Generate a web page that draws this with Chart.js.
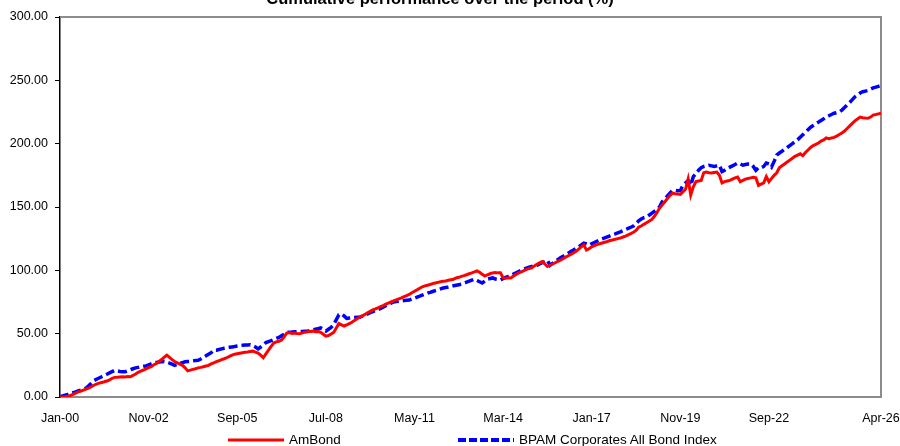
<!DOCTYPE html>
<html>
<head>
<meta charset="utf-8">
<script src="https://cdn.jsdelivr.net/npm/chart.js@4/dist/chart.umd.min.js"></script>
<style>
    html, body { margin: 0; padding: 0; background: #fff; overflow: hidden; }
    #wrap { position: relative; width: 900px; height: 446px; font-family: "Liberation Sans", Arial, sans-serif; }
    #chart { position: absolute; left: 0; top: 0; }
    #title { position: absolute; left: 0; width: 880px; top: -10.5px; text-align: center; font-weight: bold; font-size: 16.5px; line-height: 16.5px; white-space: nowrap; }
    .leg { position: absolute; top: 431px; font-size: 13.5px; line-height: 16px; white-space: nowrap; }
    .leg svg { position: absolute; top: 0; }
</style>
</head>
<body>
<div id="wrap">
    <canvas id="chart" width="900" height="446"></canvas>
    <div id="title">Cumulative performance over the period (%)</div>
    <div class="leg" style="left:228px;">
        <svg width="58" height="16"><line x1="0" y1="9" x2="56" y2="9" stroke="#ff0000" stroke-width="3"/></svg>
        <span style="position:absolute; left:61px; top:1px;">AmBond</span>
    </div>
    <div class="leg" style="left:458px;">
        <svg width="58" height="16"><line x1="0" y1="9" x2="56" y2="9" stroke="#0000ff" stroke-width="4" stroke-dasharray="8 3"/></svg>
        <span style="position:absolute; left:61px; top:1px;">BPAM Corporates All Bond Index</span>
    </div>
</div>
<script>
// --- Data (monthly, Jan-00 .. Apr-26) ---
const monthNames = ['Jan', 'Feb', 'Mar', 'Apr', 'May', 'Jun', 'Jul', 'Aug', 'Sep', 'Oct', 'Nov', 'Dec'];
const tickLabels = ['Jan-00', 'Nov-02', 'Sep-05', 'Jul-08', 'May-11', 'Mar-14', 'Jan-17', 'Nov-19', 'Sep-22', 'Apr-26'];
const yTicks = [0, 50, 100, 150, 200, 250, 300];

const amBond = [
    0, 0.1, 0.3, 0.5, 1.2, 2.0, 3.1, 4.0, 4.6, 5.5, 6.3, 7.0,
    8.1, 9.3, 10.2, 11.0, 11.5, 12.0, 12.6, 13.5, 14.8, 15.5, 15.6, 15.8,
    15.9, 15.8, 16.2, 16.0, 17.0, 18.2, 19.5, 20.5, 21.3, 22.2, 23.1, 24.0,
    25.5, 26.4, 28.0, 29.6, 31.5, 33.0, 31.2, 29.5, 28.0, 27.0, 26.0, 25.0,
    23.0, 20.6, 21.2, 21.8, 22.3, 23.0, 23.4, 23.9, 24.5, 25.0, 26.1, 27.0,
    28.0, 28.6, 29.5, 30.2, 31.0, 32.0, 33.0, 33.8, 34.2, 34.6, 35.0, 35.3,
    35.6, 36.0, 36.2, 35.5, 34.6, 33.0, 31.0, 34.0, 37.0, 40.0, 42.6, 43.5,
    44.0, 45.0, 47.5, 50.5, 50.8, 50.2, 50.5, 50.1, 50.0, 50.6, 51.2, 51.5,
    51.8, 52.0, 51.6, 51.8, 51.0, 49.5, 48.0, 48.5, 49.8, 51.0, 54.5, 58.0,
    57.0, 56.0, 57.0, 58.0, 59.0, 60.5, 61.8, 63.0, 64.0, 65.2, 66.5, 67.6,
    68.7, 69.5, 70.4, 71.3, 72.2, 73.3, 74.2, 75.0, 75.8, 76.7, 77.5, 78.3,
    79.2, 80.0, 81.0, 82.3, 83.5, 84.6, 85.8, 87.0, 87.7, 88.2, 88.8, 89.5,
    90.0, 90.5, 91.0, 91.3, 91.6, 92.2, 92.6, 93.0, 94.0, 94.5, 95.2, 95.8,
    96.5, 97.3, 98.0, 98.8, 99.5, 98.5, 96.8, 95.5, 96.5, 97.3, 98.0, 98.3,
    98.0, 98.0, 94.0, 93.8, 94.2, 94.0, 95.5, 96.8, 98.0, 98.8, 99.8, 100.8,
    101.5, 102.0, 103.5, 104.8, 106.0, 107.0, 105.0, 103.0, 104.0, 105.0, 106.0, 107.0,
    108.0, 109.2, 110.4, 111.5, 112.6, 113.7, 115.0, 116.8, 118.5, 120.0, 116.0, 117.0,
    118.5, 119.5, 120.3, 121.0, 121.6, 122.2, 122.8, 123.5, 124.0, 124.5, 125.0, 125.5,
    126.3, 127.0, 128.0, 129.0, 130.0, 131.5, 134.0, 135.0, 136.3, 137.5, 138.8, 140.0,
    142.5, 145.5, 149.0, 151.5, 154.0, 156.5, 159.0, 161.0, 160.5, 160.2, 160.0, 162.0,
    164.0, 172.0, 159.5, 166.0, 170.0, 170.5, 171.0, 177.0, 177.5, 177.0, 176.8, 177.3,
    177.6, 175.0, 169.0, 170.0, 170.5, 171.0, 172.0, 173.0, 173.7, 170.0, 171.0, 172.0,
    172.5, 173.0, 173.5, 173.0, 167.0, 168.0, 169.0, 174.0, 170.0, 172.5, 175.0, 177.0,
    181.0, 182.5, 184.0, 185.5, 187.0, 188.5, 190.0, 191.0, 192.0, 190.5, 193.0, 195.0,
    197.0, 198.5, 199.5, 200.5, 202.0, 203.0, 204.5, 204.0, 204.5, 205.0, 206.0, 207.2,
    208.5, 210.0, 212.0, 214.0, 216.0, 218.0, 219.5, 221.0, 220.5, 220.2, 220.0, 221.0,
    222.6, 223.0, 223.5, 224.0
];

const bpamIndex = [
    0, 0.8, 1.5, 2.0, 2.8, 3.5, 4.0, 4.8, 5.5, 6.3, 7.0, 8.8,
    10.8, 13.0, 14.0, 15.0, 16.0, 17.0, 18.0, 19.0, 20.0, 21.0, 20.6, 20.2,
    20.0, 20.0, 20.8, 21.5, 22.3, 23.0, 23.4, 23.8, 24.2, 24.5, 25.3, 26.2,
    27.0, 27.3, 27.6, 27.8, 28.0, 27.5, 26.8, 26.0, 25.0, 25.8, 26.5, 27.2,
    27.8, 28.0, 28.2, 28.5, 28.8, 29.0, 30.0, 31.2, 32.5, 33.8, 35.0, 37.0,
    37.0, 37.5, 38.0, 38.5, 38.8, 39.2, 39.5, 39.8, 40.2, 40.5, 40.8, 41.0,
    41.0, 41.2, 40.5, 39.5, 38.0, 39.5, 41.0, 43.0, 43.8, 44.5, 45.3, 46.2,
    47.0, 48.3, 49.6, 51.0, 51.2, 51.3, 51.5, 51.6, 51.7, 51.8, 51.9, 52.0,
    52.5, 53.0, 53.5, 54.0, 54.5, 53.5, 52.0, 53.5, 55.0, 57.0, 61.0, 65.0,
    65.5, 64.0, 62.0, 62.3, 62.6, 62.8, 63.0, 63.0, 63.8, 64.6, 65.5, 66.5,
    67.4, 68.2, 69.0, 70.0, 71.0, 72.0, 73.0, 74.0, 75.0, 75.3, 75.6, 75.9,
    76.1, 76.3, 76.5, 77.3, 78.1, 78.9, 79.6, 80.4, 81.2, 82.0, 82.6, 83.3,
    84.0, 84.6, 85.3, 86.0, 86.4, 86.8, 87.3, 87.8, 88.2, 88.6, 89.0, 89.8,
    90.6, 91.4, 92.2, 93.0, 92.0, 91.0, 90.0, 91.5, 93.0, 93.5, 94.0, 93.2,
    92.8, 92.4, 93.5, 94.5, 95.2, 96.0, 97.0, 98.0, 99.0, 100.0, 101.0, 101.8,
    102.5, 103.0, 103.5, 104.0, 105.0, 106.0, 107.0, 108.0, 104.0, 105.5, 107.0, 108.5,
    110.0, 111.0, 112.2, 113.5, 114.8, 116.0, 117.3, 118.6, 120.0, 121.5, 120.8, 120.0,
    121.0, 122.0, 123.0, 124.0, 124.8, 125.6, 126.4, 127.2, 128.0, 128.7, 129.5, 130.3,
    131.2, 132.2, 133.1, 134.0, 135.0, 137.0, 139.0, 140.5, 141.5, 142.0, 143.5, 145.0,
    146.5, 148.0, 150.0, 154.0, 156.5, 158.5, 161.0, 163.0, 163.2, 162.8, 163.0, 167.0,
    169.0, 171.0, 167.0, 174.0, 176.5, 179.0, 181.0, 182.0, 182.5, 183.0, 182.5, 182.0,
    182.5, 183.0, 178.0, 179.0, 180.5, 181.5, 182.5, 183.5, 184.7, 184.0, 183.0, 183.5,
    184.0, 184.0, 182.0, 179.0, 181.0, 181.0, 182.0, 184.7, 184.0, 181.5, 186.0, 191.0,
    192.6, 194.0, 195.5, 197.0, 198.5, 200.0, 201.5, 203.0, 205.0, 207.0, 209.0, 211.0,
    213.0, 214.3, 215.6, 217.0, 218.3, 219.6, 221.0, 222.0, 223.0, 224.0, 224.5, 225.0,
    226.5, 228.5, 230.5, 232.5, 234.8, 237.0, 238.5, 240.0, 241.0, 241.5, 242.0, 243.0,
    244.0, 244.6, 245.3, 246.0
];

// month category labels, e.g. "Jan-00"
const categories = amBond.map((_, i) => monthNames[i % 12] + '-' + String(Math.floor(i / 12)).padStart(2, '0'));

// gray frame on top / right of the plot area
const plotFrame = {
    id: 'plotFrame',
    beforeDatasetsDraw(chart) {
        const { ctx, chartArea: a } = chart;
        ctx.save();
        ctx.strokeStyle = '#8c8c8c';
        ctx.lineWidth = 2;
        ctx.beginPath();
        ctx.moveTo(a.left, a.top);
        ctx.lineTo(a.right, a.top);
        ctx.lineTo(a.right, a.bottom);
        ctx.stroke();
        ctx.restore();
    }
};

const axisFont = { family: '"Liberation Sans", Arial, sans-serif', size: 12.5 };

new Chart(document.getElementById('chart').getContext('2d'), {
    type: 'line',
    data: {
        labels: categories,
        datasets: [
            {
                label: 'AmBond',
                data: amBond,
                borderColor: '#ff0000',
                borderWidth: 3,
                pointRadius: 0,
                tension: 0,
                fill: false
            },
            {
                label: 'BPAM Corporates All Bond Index',
                data: bpamIndex,
                borderColor: '#0000ff',
                borderWidth: 3.5,
                borderDash: [9, 4],
                pointRadius: 0,
                tension: 0,
                fill: false
            }
        ]
    },
    options: {
        responsive: false,
        animation: false,
        layout: { padding: { top: 17, right: 19, left: 0, bottom: 0 } },
        plugins: {
            legend: { display: false },
            title: { display: false },
            tooltip: { enabled: false }
        },
        scales: {
            x: {
                type: 'category',
                offset: false,
                grid: { display: false },
                border: { color: '#8c8c8c', width: 2 },
                ticks: {
                    autoSkip: false,
                    maxRotation: 0,
                    minRotation: 0,
                    padding: 6,
                    color: '#000',
                    font: axisFont,
                    callback: (v, i) => tickLabels.includes(categories[i]) ? categories[i] : null
                },
                afterFit: s => {
                    s.height = 49;
                    s.paddingLeft = 0;
                    s.paddingRight = 0;
                }
            },
            y: {
                min: 0,
                max: 300,
                afterBuildTicks: s => { s.ticks = yTicks.map(v => ({ value: v })); },
                grid: { drawOnChartArea: false, drawTicks: true, tickLength: 5, color: '#000' },
                border: { color: '#000', width: 1.5 },
                ticks: {
                    padding: 7,
                    color: '#000',
                    font: axisFont,
                    callback: v => Number(v).toFixed(2)
                },
                afterFit: s => {
                    s.width = 60;
                    s.paddingTop = 0;
                    s.paddingBottom = 0;
                }
            }
        }
    },
    plugins: [plotFrame]
});
</script>
</body>
</html>
